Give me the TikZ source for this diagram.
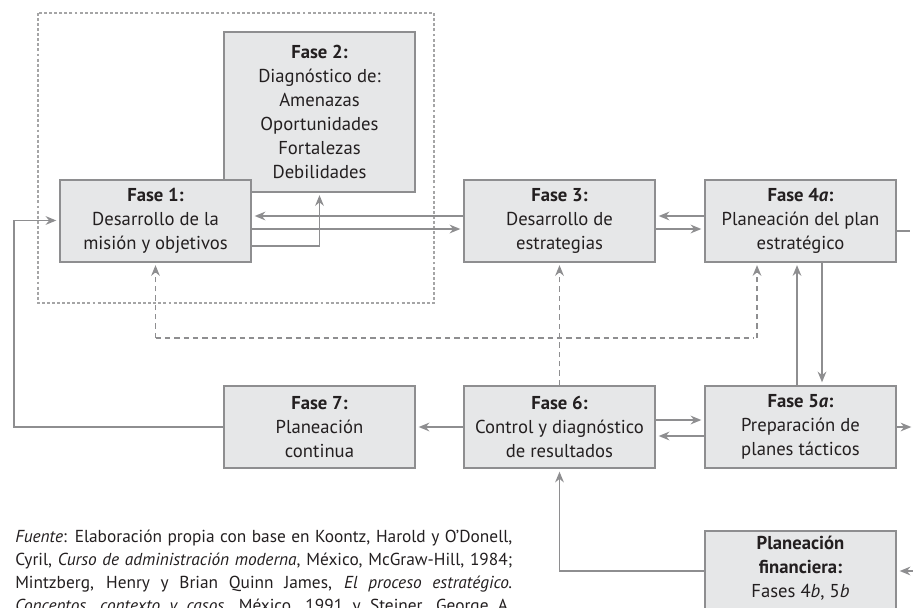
\documentclass[tikz,border=0pt]{standalone}
\usepackage{fontspec}
\setmainfont{PT Sans}
\usepackage{tikz}
\usetikzlibrary{calc, arrows.meta, positioning}
\definecolor{boxgray}{HTML}{E6E7E8}
\definecolor{linegray}{HTML}{8E8E90}
\definecolor{ink}{HTML}{231F20}

\begin{document}
\begin{tikzpicture}[x=0.75pt, y=-0.75pt, >={Stealth[length=8pt,width=6.5pt]},
    fase/.style={draw=linegray, line width=1.5pt, fill=boxgray, minimum width=143.25pt,
        minimum height=61.5pt, align=center, text=ink, inner sep=1pt,
        font=\fontsize{14}{18}\selectfont},
    conn/.style={draw=linegray, line width=1.4pt, shorten >=2pt},
    dline/.style={conn, dash pattern=on 4pt off 3pt},
    dotbox/.style={draw=linegray!80, line width=1.2pt, dash pattern=on 2.2pt off 1.6pt}]
    \useasboundingbox (0,0) rectangle (913,607);

    \draw[dotbox] (38,13) rectangle (434,303);

    \node (f2) at (319.5,111.5)[fase, minimum height=120pt]{\textbf{Fase 2:}\\Diagnóstico de:\\Amenazas\\Oportunidades\\Fortalezas\\Debilidades};
    \node (f1) at (155.5,220.5)[fase]{\textbf{Fase 1:}\\Desarrollo de la\\misión y objetivos};
    \node (f3) at (559.5,220.5)[fase]{\textbf{Fase 3:}\\Desarrollo de\\estrategias};
    \node (f4) at (800.5,220.5)[fase]{\textbf{Fase 4\textit{a}:}\\Planeación del plan\\estratégico};
    \node (f7) at (319.5,427)[fase]{\textbf{Fase 7:}\\Planeación\\continua};
    \node (f6) at (559.5,427)[fase]{\textbf{Fase 6:}\\Control y diagnóstico\\de resultados};
    \node (f5) at (800.5,427)[fase]{\textbf{Fase 5\textit{a}:}\\Preparación de\\planes tácticos};
    \node (pf) at (800.5,530)[fase, anchor=north, inner ysep=3.5pt, text depth=45pt]{\textbf{Planeación}\\\textbf{financiera:}\\Fases 4\textit{b}, 5\textit{b}};

    % upper row
    \draw[conn,->] ($(f3.west)+(0,-4.5)$) -- ($(f1.east)+(0,-4.5)$);
    \draw[conn,->] ($(f1.east)+(0,8.5)$) -- ($(f3.west)+(0,8.5)$);
    \draw[conn,->] ($(f1.east)+(0,25.5)$) -| (f2.south);
    \draw[conn,->] ($(f4.west)+(0,-4.5)$) -- ($(f3.east)+(0,-4.5)$);
    \draw[conn,->] ($(f3.east)+(0,8.5)$) -- ($(f4.west)+(0,8.5)$);
    \coordinate (out4) at (913,231);
    \draw[conn] ($(f4.east)+(0,10.5)$) -- (out4);

    % 4a <-> 5a
    \draw[conn,->] ($(f5.north)+(-3.5,0)$) -- ($(f4.south)+(-3.5,0)$);
    \draw[conn,->] ($(f4.south)+(21.5,0)$) -- ($(f5.north)+(21.5,0)$);
    \coordinate (out5) at (914,427);
    \draw[conn,->] (f5.east) -- (out5);

    % lower row
    \draw[conn,->] ($(f6.east)+(0,-7)$) -- ($(f5.west)+(0,-7)$);
    \draw[conn,->] ($(f5.west)+(0,9)$) -- ($(f6.east)+(0,9)$);
    \draw[conn,->] (f6.west) -- (f7.east);
    \draw[conn,->] (f7.west) -- ++(-209,0) |- (f1.west);
    \draw[conn,->] ($(pf.north west)+(0,41)$) -| (f6.south);
    \coordinate (inpf) at (913,571);
    \draw[conn,->] (inpf) -- (inpf -| pf.east);

    % control feedback
    \coordinate (d1) at (155.5,338);
    \coordinate (d4) at (757,338);
    \draw[dline,->] (f6.north) -- (f3.south);
    \draw[dline] (d1) -- (d4);
    \draw[dline,->] (d1) -- (f1.south);
    \draw[dline,->] (d4) -- (d4 |- f4.south);

    \node (fuente) at (15,530)[anchor=north west, inner sep=0pt, align=left, text=ink,
        font=\fontsize{13}{17.25}\selectfont]{%
        \makebox[372.75pt][s]{\textit{Fuente}: Elaboración propia con base en Koontz, Harold y O’Donell,}\\
        \makebox[372.75pt][s]{Cyril, \textit{Curso de administración moderna}, México, McGraw-Hill, 1984;}\\
        \makebox[372.75pt][s]{Mintzberg, Henry y Brian Quinn James, \textit{El proceso estratégico.}}\\
        \makebox[372.75pt][s]{\textit{Conceptos, contexto y casos}, México, 1991 y Steiner, George A.}};
\end{tikzpicture}
\end{document}
